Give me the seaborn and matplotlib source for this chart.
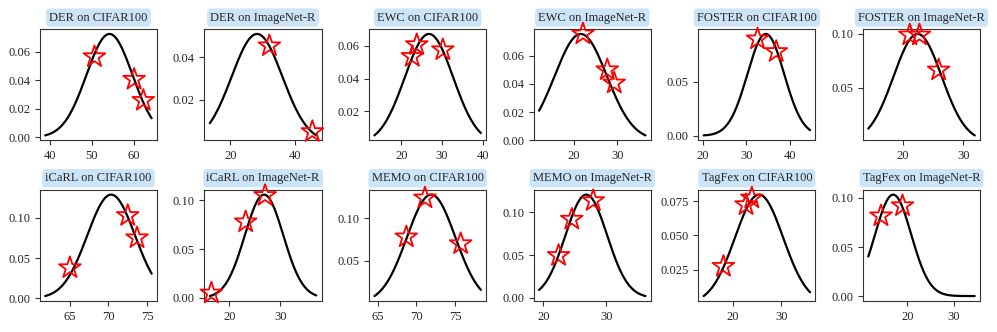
import numpy as np
import pandas as pd
import matplotlib
matplotlib.use('Agg')
import matplotlib.pyplot as plt
import seaborn as sns

# ---------------------------------------------------------------
# data: one gaussian curve + stars per panel
titles = ['DER on CIFAR100', 'DER on ImageNet-R', 'EWC on CIFAR100', 'EWC on ImageNet-R',
          'FOSTER on CIFAR100', 'FOSTER on ImageNet-R', 'iCaRL on CIFAR100', 'iCaRL on ImageNet-R',
          'MEMO on CIFAR100', 'MEMO on ImageNet-R', 'TagFex on CIFAR100', 'TagFex on ImageNet-R']
means = [54.2, 28.2, 26.8, 21.6, 34.5, 22.4, 70.35, 26.8, 71.9, 26.8, 25.4, 17.0]
stds = [5.5, 7.8, 5.94, 6.0, 4.23, 4.0, 3.1, 3.76, 3.12, 3.31, 5.0, 3.86]
peaks = [0.0725, 0.051, 0.0672, 0.0755, 0.0944, 0.100, 0.129, 0.106, 0.128, 0.1205, 0.0798, 0.1034]
x_start = [38.8, 13.7, 13.4, 12.0, 20.2, 14.2, 61.8, 16.2, 64.6, 19.3, 13.9, 11.7]
x_end = [64.3, 46.4, 39.55, 36.5, 44.7, 31.9, 75.6, 37.0, 78.3, 36.2, 36.0, 34.4]

star_x = [[50.6, 60.1, 62.3], [32.0, 45.2], [22.7, 23.8, 30.2], [22.1, 27.7, 29.3],
          [32.6, 36.9], [21.1, 22.7, 25.9], [65.0, 72.5, 73.7], [16.5, 23.2, 27.0],
          [68.7, 71.1, 75.7], [22.4, 24.5, 27.9], [18.0, 22.7, 23.9], [14.4, 19.0]]
star_y = [[0.0565, 0.0407, 0.0259], [0.0454, 0.0051], [0.0534, 0.0606, 0.0575], [0.0755, 0.050, 0.0406],
          [0.0897, 0.078], [0.099, 0.099, 0.0665], [0.038, 0.1029, 0.0752], [0.005, 0.078, 0.105],
          [0.078, 0.124, 0.070], [0.0494, 0.0917, 0.1134], [0.0273, 0.0724, 0.0773], [0.0817, 0.092]]

# ---------------------------------------------------------------
sns.set_style('ticks')
plt.rcParams['font.family'] = ['Liberation Serif', 'DejaVu Serif']
plt.rcParams['font.size'] = 9
plt.rcParams['xtick.labelsize'] = 9
plt.rcParams['ytick.labelsize'] = 9

fig, axes = plt.subplots(2, 6, figsize=(9.97, 3.32), dpi=100)
fig.subplots_adjust(left=0.040, right=0.983, top=0.913, bottom=0.093, wspace=0.406, hspace=0.44)

for i, ax in enumerate(axes.flat):
    xs = np.linspace(x_start[i], x_end[i], 300)
    curve = pd.DataFrame({'x': xs,
                          'y': peaks[i] * np.exp(-0.5 * ((xs - means[i]) / stds[i]) ** 2)})
    sns.lineplot(data=curve, x='x', y='y', ax=ax, color='black', linewidth=1.6)

    pts = pd.DataFrame({'x': star_x[i], 'y': star_y[i]})
    sns.scatterplot(data=pts, x='x', y='y', ax=ax, marker='*', s=270,
                    facecolor='none', edgecolor='red', linewidth=1.3, clip_on=False, zorder=5)

    ax.set_xlabel('')
    ax.set_ylabel('')
    ax.set_title(titles[i], fontsize=9, pad=6,
                 bbox=dict(boxstyle='round,pad=0.25', facecolor='#cce4f8', edgecolor='none'))
    for sp in ax.spines.values():
        sp.set_color('#333333')
    ax.tick_params(length=3.5, color='#333333')

fig.savefig('out.png', dpi=100)
